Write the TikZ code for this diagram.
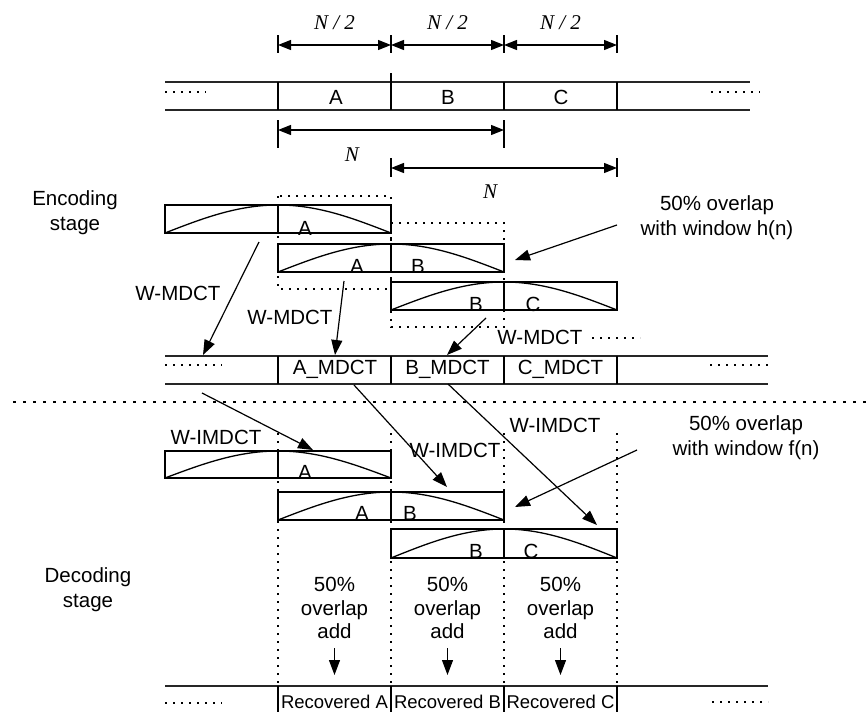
\documentclass[tikz,border=0pt]{standalone}
\usepackage{fontspec}
\setmainfont{Liberation Sans}
\newfontfamily\serifit{Liberation Serif}
\usetikzlibrary{arrows.meta}
\newcommand{\drawwin}[3]{%
  \draw[winbox] (#1,#2) rectangle ({#1+226},#3);
  \draw[winbox] ({#1+113},#2) -- ({#1+113},#3);
  \draw[winbox] plot[domain=0:180,samples=50,smooth] ({#1+\x/180*226},{#3-(#3-#2)*sin(\x)});
}
\begin{document}
\begin{tikzpicture}[x=1pt,y=-1pt,
  every node/.style={inner sep=0pt, font=\fontsize{20.5}{25}\selectfont},
  lbl/.style={align=center},
  smalllbl/.style={font=\fontsize{18.5}{22}\selectfont},
  mathlbl/.style={font=\fontsize{21}{25}\serifit\itshape},
  stripline/.style={line width=1.8pt, draw=black!85},
  winbox/.style={line width=1.3pt},
  dotl/.style={line width=1.2pt, dash pattern=on 2pt off 6pt},
  sepl/.style={line width=1.2pt, dash pattern=on 2.5pt off 7.5pt},
  arr/.style={line width=1.2pt, -{Triangle[length=15pt,width=11pt]}},
  dimarr/.style={line width=1.3pt, {Triangle[length=13pt,width=10pt]}-{Triangle[length=13pt,width=10pt]}},
  dimtick/.style={line width=1.3pt},
]
\useasboundingbox (0,0) rectangle (868,712);

% ---------- top dimension arrows N/2 ----------
\foreach \xx in {278,391,504,617} \draw[dimtick] (\xx,35) -- (\xx,53);
\coordinate (t0) at (278,45); \coordinate (t1) at (391,45);
\coordinate (t2) at (504,45); \coordinate (t3) at (617,45);
\draw[dimarr] (t0) -- (t1);
\draw[dimarr] (t1) -- (t2);
\draw[dimarr] (t2) -- (t3);
\node[mathlbl] (h1) at (334.5,23) {N / 2};
\node[mathlbl] (h2) at (447.5,23) {N / 2};
\node[mathlbl] (h3) at (560.5,23) {N / 2};

% ---------- top strip ----------
\draw[stripline] (165,82) -- (750,82);
\draw[stripline] (165,110) -- (750,110);
\draw[winbox] (278,82) -- (278,110);
\draw[winbox] (391,73) -- (391,110);
\draw[winbox] (504,82) -- (504,110);
\draw[winbox] (617,82) -- (617,110);
\draw[dotl] (165,92) -- (206,92);
\draw[dotl] (711,92) -- (760,92);
\node (sA) at (336,97) {A};
\node (sB) at (448,97) {B};
\node (sC) at (561,97) {C};

% ---------- N arrows ----------
\draw[dimtick] (278,120) -- (278,148);
\draw[dimtick] (504,120) -- (504,148);
\coordinate (n1a) at (278,130); \coordinate (n1b) at (504,130);
\draw[dimarr] (n1a) -- (n1b);
\node[mathlbl] (nl1) at (352,155) {N};
\draw[dimtick] (391,158) -- (391,177);
\draw[dimtick] (617,158) -- (617,177);
\coordinate (n2a) at (391,168); \coordinate (n2b) at (617,168);
\draw[dimarr] (n2a) -- (n2b);
\node[mathlbl] (nl2) at (490,192) {N};

% ---------- encoding ----------
\node[lbl] (enc) at (75,213) {Encoding\\stage};
\draw[dotl] (278,196) rectangle (391,289);
\draw[dotl] (391,223) rectangle (504,327);
\drawwin{165}{205}{233}
\drawwin{278}{244}{272}
\drawwin{391}{282}{310}
\node (w1A) at (305,228) {A};
\node (w2A) at (357,266) {A};
\node (w2B) at (418,266) {B};
\node (w3B) at (476,304) {B};
\node (w3C) at (533,304) {C};

\node[lbl] (hn) at (717,218) {50\% overlap\\with window h(n)};
\coordinate (hs) at (617,225); \coordinate (he) at (515,260);
\draw[arr] (hs) -- (he);

\node (wm1) at (178,293) {W-MDCT};
\node (wm2) at (290,317) {W-MDCT};
\node (wm3) at (540,337) {W-MDCT};
\draw[dotl] (592,338) -- (640,338);

\coordinate (e1s) at (259,242); \coordinate (e1e) at (203,355);
\coordinate (e2s) at (344,281); \coordinate (e2e) at (335,355);
\coordinate (e3s) at (486,318); \coordinate (e3e) at (447,355);
\draw[arr] (e1s) -- (e1e);
\draw[arr] (e2s) -- (e2e);
\draw[arr] (e3s) -- (e3e);

% ---------- MDCT strip ----------
\draw[stripline] (165,356) -- (768,356);
\draw[stripline] (165,384) -- (768,384);
\foreach \xx in {278,391,504,617} \draw[winbox] (\xx,356) -- (\xx,384);
\draw[dotl] (165,365) -- (222,365);
\draw[dotl] (710,365) -- (768,365);
\node (mA) at (335,369) {A\_MDCT};
\node (mB) at (447.5,369) {B\_MDCT};
\node (mC) at (560.5,369) {C\_MDCT};

% ---------- separator ----------
\draw[sepl] (13,402) -- (868,402);

% ---------- decoding ----------
\foreach \xx in {278,391,504,617} \draw[dotl] (\xx,433) -- (\xx,686);
\drawwin{165}{451}{478}
\drawwin{278}{492}{520}
\drawwin{391}{529}{558}
\node (d1A) at (305,472) {A};
\node (d2A) at (362,513) {A};
\node (d2B) at (410,513) {B};
\node (d3B) at (476,551) {B};
\node (d3C) at (531,551) {C};

\node (wi1) at (216,437) {W-IMDCT};
\node (wi2) at (455,450) {W-IMDCT};
\node (wi3) at (555,425) {W-IMDCT};

\node[lbl] (fn) at (746,437.5) {50\% overlap\\with window f(n)};
\coordinate (fs) at (637,450); \coordinate (fe) at (515,507);
\draw[arr] (fs) -- (fe);

\coordinate (d1s) at (202,393); \coordinate (d1e) at (313,450);
\coordinate (d2s) at (354,385); \coordinate (d2e) at (447,487);
\coordinate (d3s) at (448,384); \coordinate (d3e) at (597,525);
\draw[arr] (d1s) -- (d1e);
\draw[arr] (d2s) -- (d2e);
\draw[arr] (d3s) -- (d3e);

\node[lbl] (dec) at (88,590) {Decoding\\stage};

\node[lbl, font=\fontsize{20.5}{23.5}\selectfont] (oa1) at (334.5,608) {50\%\\overlap\\add};
\node[lbl, font=\fontsize{20.5}{23.5}\selectfont] (oa2) at (447.5,608) {50\%\\overlap\\add};
\node[lbl, font=\fontsize{20.5}{23.5}\selectfont] (oa3) at (560.5,608) {50\%\\overlap\\add};
\coordinate (b1s) at (334.5,648); \coordinate (b1e) at (334.5,675);
\coordinate (b2s) at (447.5,648); \coordinate (b2e) at (447.5,675);
\coordinate (b3s) at (560.5,648); \coordinate (b3e) at (560.5,675);
\draw[arr] (b1s) -- (b1e);
\draw[arr] (b2s) -- (b2e);
\draw[arr] (b3s) -- (b3e);

% ---------- bottom strip ----------
\draw[stripline] (165,686) -- (768,686);
\foreach \xx in {278,391,504,617} \draw[winbox] (\xx,686) -- (\xx,712);
\draw[dotl] (165,703) -- (222,703);
\draw[dotl] (712,702) -- (768,702);
\node[smalllbl] (rA) at (334.5,702) {Recovered A};
\node[smalllbl] (rB) at (447.5,702) {Recovered B};
\node[smalllbl] (rC) at (560.5,702) {Recovered C};
\end{tikzpicture}
\end{document}
